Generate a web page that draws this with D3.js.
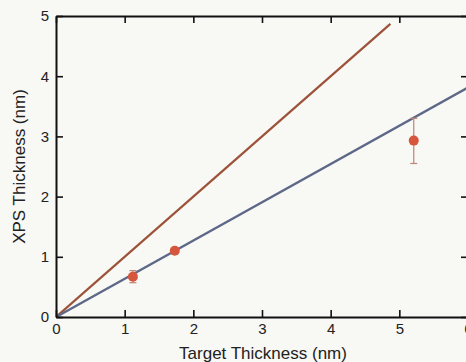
<!DOCTYPE html>
<html lang="en">
<head>
<meta charset="utf-8">
<title>XPS vs target thickness</title>
<script src="https://d3js.org/d3.v7.min.js"></script>
<style>
body { margin: 0; background: #f8f8f4; overflow: hidden; }
svg { display: block; font-family: "Liberation Sans", Arial, sans-serif; }
.tick text { font-size: 15px; fill: #222; }
</style>
</head>
<body>
<div id="chart"></div>
<script>
// data
var targetX = [1.12, 1.73, 5.21];
var xpsY = [0.67, 1.10, 2.93];
var errLo = [0.10, 0.03, 0.38];
var errHi = [0.10, 0.03, 0.37];
var identityLine = [[0, 0], [4.87, 4.87]];
var fitLine = [[0, 0], [6.2, 3.94]];
var xTicks = [0, 1, 2, 3, 4, 5, 6];
var yTicks = [0, 1, 2, 3, 4, 5];

var width = 466, height = 362;
var margin = {top: 16, left: 56};
var plotW = 412, plotH = 301;

var svg = d3.select('#chart').append('svg')
    .attr('width', width)
    .attr('height', height);

var x = d3.scaleLinear().domain([0, 6]).range([margin.left, margin.left + plotW]);
var y = d3.scaleLinear().domain([0, 5]).range([margin.top + plotH, margin.top]);

svg.append('clipPath').attr('id', 'plotclip')
    .append('rect')
    .attr('x', x(0)).attr('y', y(5))
    .attr('width', plotW).attr('height', plotH);

var plot = svg.append('g').attr('clip-path', 'url(#plotclip)');

var line = d3.line().x(function(d) { return x(d[0]); }).y(function(d) { return y(d[1]); });

// y = x reference
plot.append('path')
    .datum(identityLine)
    .attr('d', line)
    .attr('fill', 'none')
    .attr('stroke', '#9c5238')
    .attr('stroke-width', 2.2);

// fit line
plot.append('path')
    .datum(fitLine)
    .attr('d', line)
    .attr('fill', 'none')
    .attr('stroke', '#5d6888')
    .attr('stroke-width', 2.4);

// error bars
var pts = targetX.map(function(v, i) {
    return {x: v, y: xpsY[i], lo: xpsY[i] - errLo[i], hi: xpsY[i] + errHi[i]};
});

var eb = plot.append('g').selectAll('g')
    .data(pts)
    .enter().append('g')
    .attr('stroke', '#c08478')
    .attr('stroke-width', 1.2);

eb.append('line')
    .attr('x1', function(d) { return x(d.x); })
    .attr('x2', function(d) { return x(d.x); })
    .attr('y1', function(d) { return y(d.lo); })
    .attr('y2', function(d) { return y(d.hi); });
eb.append('line')
    .attr('x1', function(d) { return x(d.x) - 3.5; })
    .attr('x2', function(d) { return x(d.x) + 3.5; })
    .attr('y1', function(d) { return y(d.lo); })
    .attr('y2', function(d) { return y(d.lo); });
eb.append('line')
    .attr('x1', function(d) { return x(d.x) - 3.5; })
    .attr('x2', function(d) { return x(d.x) + 3.5; })
    .attr('y1', function(d) { return y(d.hi); })
    .attr('y2', function(d) { return y(d.hi); });

plot.append('g').selectAll('circle')
    .data(pts)
    .enter().append('circle')
    .attr('cx', function(d) { return x(d.x); })
    .attr('cy', function(d) { return y(d.y); })
    .attr('r', 5)
    .attr('fill', '#d6553d');

// axes
function styleAxis(g) {
    g.select('.domain').attr('stroke', '#111').attr('stroke-width', 2);
    g.selectAll('.tick line').attr('stroke', '#111').attr('stroke-width', 1.6);
}

svg.append('g')
    .attr('transform', 'translate(0,' + y(0) + ')')
    .call(d3.axisBottom(x).tickValues(xTicks).tickFormat(d3.format('d')).tickSizeInner(-7).tickSizeOuter(0).tickPadding(6))
    .call(styleAxis);

svg.append('g')
    .attr('transform', 'translate(0,' + y(5) + ')')
    .call(d3.axisTop(x).tickValues(xTicks).tickFormat('').tickSizeInner(-7).tickSizeOuter(0))
    .call(styleAxis);

svg.append('g')
    .attr('transform', 'translate(' + x(0) + ',0)')
    .call(d3.axisLeft(y).tickValues(yTicks).tickFormat(d3.format('d')).tickSizeInner(-7).tickSizeOuter(0).tickPadding(7))
    .call(styleAxis);

svg.append('g')
    .attr('transform', 'translate(' + x(6) + ',0)')
    .call(d3.axisRight(y).tickValues(yTicks).tickFormat('').tickSizeInner(-7).tickSizeOuter(0))
    .call(styleAxis);

// axis titles
svg.append('text')
    .attr('x', 263)
    .attr('y', 359)
    .attr('text-anchor', 'middle')
    .style('font-size', '17px')
    .attr('fill', '#222')
    .text('Target Thickness (nm)');

svg.append('text')
    .attr('transform', 'translate(25,' + ((y(0) + y(5)) / 2) + ') rotate(-90)')
    .attr('text-anchor', 'middle')
    .style('font-size', '17px')
    .attr('fill', '#222')
    .text('XPS Thickness (nm)');
</script>
</body>
</html>
